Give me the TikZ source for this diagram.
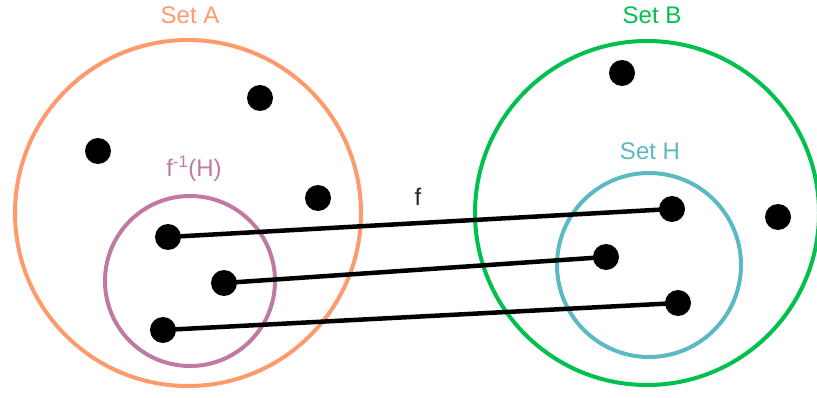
\documentclass[tikz,border=0pt]{standalone}
\usepackage{fontspec}
\setmainfont{Liberation Sans}
\definecolor{cA}{HTML}{FF9A6C}
\definecolor{cB}{HTML}{00C04E}
\definecolor{cH}{HTML}{5AB9C3}
\definecolor{cF}{HTML}{C07AA2}
\begin{document}
\begin{tikzpicture}[x=1pt,y=-1pt,
  setc/.style={draw, line width=4pt},
  dot/.style={circle, fill=black, inner sep=0pt, minimum size=26pt},
  link/.style={draw=black, line width=4.5pt},
  lbl/.style={font=\fontsize{24}{24}\selectfont, inner sep=0pt}]
\useasboundingbox (0,0) rectangle (817,398);
% sets
\draw[setc, cA] (188,213) circle[radius=173];
\draw[setc, cB] (647,213) circle[radius=172];
\draw[setc, cH] (649,265) circle[radius=92];
\draw[setc, cF] (190,281) circle[radius=85];
% labels
\node[lbl, text=cA] (lA) at (190,15) {Set A};
\node[lbl, text=cB] (lB) at (652,15) {Set B};
\node[lbl, text=cH] (lH) at (650,151) {Set H};
\node[lbl, text=cF] (lF) at (194,169) {f\textsuperscript{-1}(H)};
\node[lbl, text=black!85] (lf) at (418,197) {f};
% dots
\node[dot] (a1) at (260,98) {};
\node[dot] (a2) at (98,151) {};
\node[dot] (a3) at (318,198) {};
\node[dot] (p1) at (168,237) {};
\node[dot] (p2) at (224,283) {};
\node[dot] (p3) at (163,330) {};
\node[dot] (b1) at (622,73) {};
\node[dot] (b2) at (778,217) {};
\node[dot] (h1) at (672,209) {};
\node[dot] (h2) at (606,257) {};
\node[dot] (h3) at (678,303) {};
% links
\draw[link] (p1.center) -- (h1.center);
\draw[link] (p2.center) -- (h2.center);
\draw[link] (p3.center) -- (h3.center);
\end{tikzpicture}
\end{document}
